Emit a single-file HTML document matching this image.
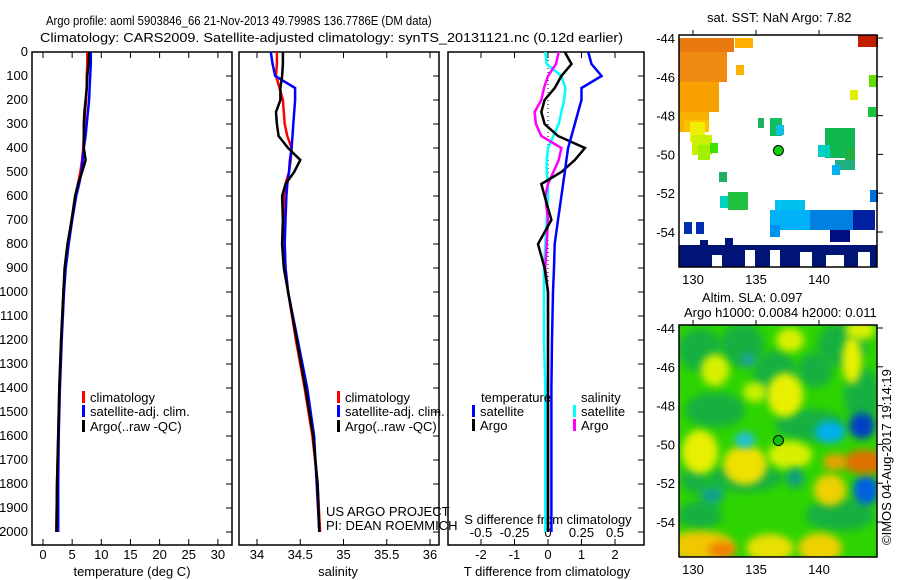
<!DOCTYPE html>
<html><head><meta charset="utf-8"><style>
body{margin:0;background:#fff;}
svg{display:block;font-family:"Liberation Sans",sans-serif;}
text{font-size:13px;fill:#000;}
</style></head><body>
<svg id="chart" width="900" height="580" viewBox="0 0 900 580">
<defs>
<clipPath id="c2"><rect x="679" y="325" width="198" height="232"/></clipPath>
<filter id="bl" x="-50%" y="-50%" width="200%" height="200%"><feGaussianBlur stdDeviation="4"/></filter>
</defs>
<text transform="translate(46,25) scale(0.87,1)" x="0" y="0">Argo profile: aoml 5903846_66 21-Nov-2013 49.7998S 136.7786E (DM data)</text>
<text transform="translate(40,42) scale(1.11,1)" x="0" y="0">Climatology: CARS2009. Satellite-adjusted climatology: synTS_20131121.nc (0.12d earlier)</text>
<g id="plots"></g>
<text x="326" y="516">US ARGO PROJECT</text>
<text x="326" y="530">PI: DEAN ROEMMICH</text>
<text x="707" y="22">sat. SST: NaN Argo: 7.82</text>
<text x="702" y="302">Altim. SLA: 0.097</text>
<text x="684" y="317">Argo h1000: 0.0084 h2000: 0.011</text>
<text transform="translate(891,545) rotate(-90)">©IMOS 04-Aug-2017 19:14:19</text>
<g id="maps"></g>
</svg>
<script>
const depths=[0,50,100,150,200,250,300,350,400,450,500,550,600,700,800,900,1000,1200,1400,1600,1800,2000];
const tempClim=[7.6,7.6,7.5,7.5,7.4,7.2,7.1,7.0,6.9,6.7,6.4,6.0,5.6,4.9,4.3,3.8,3.5,3.1,2.8,2.6,2.4,2.3];
const tempSat=[8.2,8.2,8.1,8.0,7.9,7.7,7.5,7.3,7.0,6.8,6.6,6.2,5.7,5.0,4.4,3.9,3.6,3.2,2.9,2.7,2.6,2.6];
const tempArgo=[7.9,7.8,7.6,7.5,7.3,7.1,7.0,7.0,7.0,7.3,6.7,6.0,5.5,4.9,4.2,3.7,3.5,3.1,2.8,2.6,2.4,2.3];
const salClim=[34.23,34.23,34.22,34.26,34.30,34.31,34.32,34.35,34.40,34.39,34.37,34.33,34.31,34.31,34.32,34.33,34.36,34.45,34.55,34.64,34.70,34.73];
const salSat=[34.16,34.18,34.21,34.44,34.44,34.43,34.42,34.41,34.40,34.38,34.37,34.35,34.34,34.33,34.32,34.33,34.36,34.47,34.58,34.66,34.69,34.72];
const salArgo=[34.30,34.30,34.29,34.27,34.27,34.22,34.23,34.25,34.36,34.50,34.43,34.33,34.29,34.30,34.29,34.31,34.36,34.46,34.56,34.65,34.70,34.72];
const tDiffArgo=[0.5,0.7,0.4,0.2,-0.1,-0.2,-0.1,0.3,1.1,0.8,0.4,-0.2,-0.1,0.1,-0.3,-0.1,0.0,0.0,0.0,0.0,0.0,0.0];
const tDiffSat=[1.2,1.3,1.6,1.0,1.0,0.9,0.8,0.7,0.6,0.55,0.5,0.45,0.4,0.3,0.2,0.18,0.15,0.12,0.1,0.1,0.1,0.1];
const sDiffSat=[-0.02,-0.01,0.1,0.13,0.12,0.1,0.08,0.04,0.0,-0.01,-0.01,0.0,0.0,-0.01,-0.02,-0.03,-0.03,-0.03,-0.02,-0.02,-0.02,-0.02];
const sDiffArgo=[0.08,0.06,0.0,-0.03,-0.05,-0.1,-0.09,-0.05,0.1,0.08,0.04,0.0,-0.02,0.0,-0.01,-0.02,0.0,0.0,0.0,0.0,0.0,0.0];
const depthTicks=[0,100,200,300,400,500,600,700,800,900,1000,1100,1200,1300,1400,1500,1600,1700,1800,1900,2000];
const tempTicks=[0,5,10,15,20,25,30];
const salTicks=[34,34.5,35,35.5,36];
const tdTicks=[-2,-1,0,1,2];
const sdTicks=[-0.5,-0.25,0,0.25,0.5];

const NS="http://www.w3.org/2000/svg";
const plots=document.getElementById('plots');
function mk(tag,attrs,parent,txt){const e=document.createElementNS(NS,tag);for(const k in attrs)e.setAttribute(k,attrs[k]);if(txt!==undefined)e.textContent=txt;(parent||plots).appendChild(e);return e;}
const yD=d=>52+d*0.24;
const xT=v=>43+v*5.83;
const xS=v=>257+(v-34)*86.5;
const xTD=v=>548+v*33.5;
const xSD=v=>548+v*134;
const TOP=52,BOT=545;

function panel(x0,x1,name){
  const r=mk('rect',{x:x0,y:TOP,width:x1-x0,height:BOT-TOP,fill:'none',stroke:'#000','stroke-width':1.5});
  
  
  depthTicks.forEach(d=>{
    const t=mk('line',{x1:x1-6,x2:x1,y1:yD(d),y2:yD(d),stroke:'#000'});
    
    
  });
}
panel(32,232,'temperature-panel');panel(239,439,'salinity-panel');panel(448,644,'difference-panel');
depthTicks.forEach(d=>{
  const t=mk('text',{x:28,y:yD(d)+4,'text-anchor':'end'},plots,String(d));
  
  
});
function xticks(arr,fx,y,tickTop,fmt,name){
  arr.forEach(v=>{
    const l=mk('line',{x1:fx(v),x2:fx(v),y1:tickTop,y2:tickTop+6,stroke:'#000'});
    
    
    const t=mk('text',{x:fx(v),y:y,'text-anchor':'middle'},plots,fmt(v));
    
    
    const l2=mk('line',{x1:fx(v),x2:fx(v),y1:TOP,y2:TOP+6,stroke:'#000'});
    
    
  });
}
xticks(tempTicks,xT,559,BOT-6,v=>String(v),'temperature-axis');
xticks(salTicks,xS,559,BOT-6,v=>String(v),'salinity-axis');
xticks(tdTicks,xTD,559,BOT-6,v=>String(v),'t-difference-axis');
sdTicks.forEach(v=>{
  const t=mk('text',{x:xSD(v),y:537,'text-anchor':'middle'},plots,String(v));
  
  
});
[['temperature (deg C)',132,'temperature-axis-title'],['salinity',338,'salinity-axis-title'],['T difference from climatology',547,'t-difference-axis-title']].forEach(a=>{
  const t=mk('text',{x:a[1],y:576,'text-anchor':'middle'},plots,a[0]);
  
  
});
const sdt=mk('text',{x:548,y:524,'text-anchor':'middle'},plots,'S difference from climatology');


const zl=mk('line',{x1:548,x2:548,y1:TOP,y2:BOT-20,stroke:'#000','stroke-dasharray':'1,3'});



function series(vals,fx,color,name){
  const pts=vals.map((v,i)=>fx(v).toFixed(1)+','+yD(depths[i]).toFixed(1)).join(' ');
  const p=mk('polyline',{points:pts,fill:'none',stroke:color,'stroke-width':2.5});
  
  
}
series(tempClim,xT,'#f00','temp-climatology-line');
series(tempSat,xT,'#00f','temp-satellite-line');
series(tempArgo,xT,'#000','temp-argo-line');
series(salClim,xS,'#f00','sal-climatology-line');
series(salSat,xS,'#00f','sal-satellite-line');
series(salArgo,xS,'#000','sal-argo-line');
series(sDiffSat,xSD,'#0ff','sdiff-satellite-line');
series(sDiffArgo,xSD,'#f0f','sdiff-argo-line');
series(tDiffArgo,xTD,'#000','tdiff-argo-line');
series(tDiffSat,xTD,'#00f','tdiff-satellite-line');

function legend(x,y,color,label,name){
  const r=mk('rect',{x:x,y:y-11,width:3,height:12,fill:color});
  
  
  const t=mk('text',{x:x+8,y:y},plots,label);
  
  
}
legend(82,402,'#f00','climatology','legend-temp-climatology');
legend(82,416,'#00f','satellite-adj. clim.','legend-temp-satellite');
legend(82,431,'#000','Argo(..raw -QC)','legend-temp-argo');
legend(337,402,'#f00','climatology','legend-sal-climatology');
legend(337,416,'#00f','satellite-adj. clim.','legend-sal-satellite');
legend(337,431,'#000','Argo(..raw -QC)','legend-sal-argo');
const lt=mk('text',{x:481,y:402},plots,'temperature');
const ls=mk('text',{x:581,y:402},plots,'salinity');
legend(472,416,'#00f','satellite','legend-tdiff-satellite');
legend(472,430,'#000','Argo','legend-tdiff-argo');
legend(573,416,'#0ff','satellite','legend-sdiff-satellite');
legend(573,430,'#f0f','Argo','legend-sdiff-argo');

// maps
const maps=document.getElementById('maps');
const mLon=v=>693+(v-130)*12.6;
const latTicks=[-44,-46,-48,-50,-52,-54];
const lonTicks=[130,135,140];
function mapFrame(top,name){
  const yL=v=>top+3+(-44-v)*19.4;
  latTicks.forEach(v=>{
    const t=mk('text',{x:675,y:yL(v)+5,'text-anchor':'end'},maps,String(v));
    
    
    const l=mk('line',{x1:877,x2:883,y1:yL(v),y2:yL(v),stroke:'#000'},maps);
    
    
  });
  lonTicks.forEach(v=>{
    const l=mk('line',{x1:mLon(v),x2:mLon(v),y1:top-5,y2:top,stroke:'#000'},maps);
    
    
  });
  return yL;
}
// SST map
const yA=mapFrame(35,'sst-map');
const sstBlocks=[
[679,38,55,14,'#e87a10'],[679,52,48,30,'#f08a10'],[679,82,40,30,'#f8a000'],[679,112,30,20,'#f8b000'],[684,120,25,12,'#ffc000'],
[735,38,18,10,'#ffb000'],[736,65,8,10,'#ffb000'],[690,122,15,20,'#f0f000'],[692,135,20,20,'#c8f000'],[698,145,12,15,'#a0f000'],[710,143,8,10,'#40e000'],
[858,35,20,12,'#c02000'],[869,75,8,12,'#60e000'],[850,90,8,10,'#e0f000'],[868,107,8,10,'#20c040'],
[758,118,6,10,'#20b060'],[770,118,12,18,'#10c060'],[776,125,8,10,'#10c0e0'],
[825,128,30,30,'#10b850'],[818,145,12,12,'#00d0c0'],[845,148,10,12,'#20b040'],[835,160,20,10,'#20b080'],[832,165,8,10,'#00b0f0'],
[719,172,8,10,'#20b060'],[720,196,10,12,'#00d0c0'],[728,192,20,18,'#20c040'],
[775,200,30,10,'#00c0f0'],[770,210,60,20,'#00b0f8'],[810,210,50,20,'#0080e0'],[853,210,22,20,'#0020a0'],[870,190,8,12,'#0070e0'],
[770,225,10,12,'#0090f0'],[684,222,8,12,'#0030b0'],[696,222,8,12,'#0030b0'],[830,230,20,12,'#001080'],
[679,245,198,22,'#001478'],[725,238,8,10,'#001478'],[700,240,8,8,'#001478']];
sstBlocks.forEach(b=>{
  const r=mk('rect',{x:b[0],y:b[1],width:b[2],height:b[3],fill:b[4]},maps);
  
  
});
[[712,255,10,12],[745,250,10,17],[770,250,10,17],[800,252,12,15],[826,255,18,12],[858,252,12,15]].forEach(g=>{
  const r=mk('rect',{x:g[0],y:g[1],width:g[2],height:g[3],fill:'#fff'},maps);
  
  
});
const f1=mk('rect',{x:679,y:35,width:198,height:232,fill:'none',stroke:'#000','stroke-width':1.5},maps);

const d1=mk('circle',{cx:mLon(136.78),cy:yA(-49.8),r:5,fill:'#10d010',stroke:'#000'},maps);

lonTicks.forEach(v=>{const t=mk('text',{x:mLon(v),y:284,'text-anchor':'middle'},maps,String(v));});
// SLA map
const yB=mapFrame(325,'sla-map');
const g=mk('g',{'clip-path':'url(#c2)'},maps);

mk('rect',{x:679,y:325,width:198,height:232,fill:'#2ed400'},g);
const blobs=[
[700,350,22,22,'#18b040'],[742,345,22,22,'#18b040'],[775,375,22,25,'#18b040'],[715,410,30,18,'#18b040'],[842,345,25,22,'#18b040'],[862,395,18,28,'#18b040'],[810,425,35,16,'#18b040'],[745,478,38,14,'#18b040'],[840,515,35,16,'#18b040'],[700,515,22,14,'#18b040'],[815,370,18,18,'#18b040'],[695,480,14,14,'#18b040'],
[715,370,14,16,'#d8f000'],[755,392,12,10,'#c8f000'],[852,360,10,24,'#e8f000'],[785,395,18,22,'#e8f000'],[700,452,18,22,'#e8f000'],[745,465,22,20,'#f0e000'],[790,455,22,14,'#d8f000'],[830,490,16,16,'#f0d000'],[700,546,34,15,'#f0c800'],[770,548,24,14,'#e8e000'],[820,548,22,15,'#f0d000'],[790,340,14,12,'#d8f000'],[860,330,15,10,'#d8f000'],
[748,360,7,7,'#20a0a0'],[745,440,10,8,'#20c0e0'],[830,432,15,11,'#00b0f0'],[862,426,13,13,'#0040c8'],[866,490,13,15,'#0060e0'],[795,478,9,10,'#10a080'],[712,495,12,9,'#10a090'],
[865,462,22,12,'#e07000'],[835,462,12,8,'#f0a000'],[722,550,14,8,'#f08000']];
blobs.forEach(b=>{
  const e=mk('ellipse',{cx:b[0],cy:b[1],rx:b[2],ry:b[3],fill:b[4],filter:'url(#bl)'},g);
  
  
});
const f2=mk('rect',{x:679,y:325,width:198,height:232,fill:'none',stroke:'#000','stroke-width':1.5},maps);

const d2=mk('circle',{cx:mLon(136.78),cy:yB(-49.8),r:5,fill:'#10c010',stroke:'#000'},maps);

lonTicks.forEach(v=>{const t=mk('text',{x:mLon(v),y:574,'text-anchor':'middle'},maps,String(v));});
</script>
</body></html>
